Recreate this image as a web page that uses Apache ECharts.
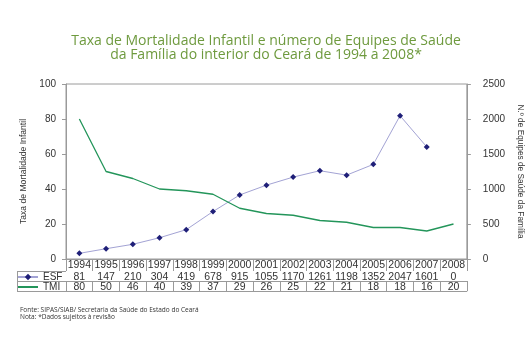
<!DOCTYPE html>
<html>
<head>
    <meta charset="utf-8">
    <title>TMI x ESF Ceara</title>
    <script src="https://cdn.jsdelivr.net/npm/echarts@6/dist/echarts.min.js"></script>
</head>
<body style="margin:0;">
<div id="main" style="width: 532px;height:353px;"></div>

<script>
    // dados
    var anos = ['1994','1995','1996','1997','1998','1999','2000','2001','2002','2003','2004','2005','2006','2007','2008'];
    var esf  = [81, 147, 210, 304, 419, 678, 915, 1055, 1170, 1261, 1198, 1352, 2047, 1601, 0];
    var tmi  = [80, 50, 46, 40, 39, 37, 29, 26, 25, 22, 21, 18, 18, 16, 20];

    var cinza = '#9a9a9a';
    var texto = '#333';
    var fonte = 'Liberation Sans';

    // 2008 sem dado de ESF no grafico (0 na tabela)
    var esfLinha = esf.map(function (v) { return v === 0 ? '-' : v; });

    function eixoTabela(offset, valores, tamTick) {
        return {
            type: 'category',
            position: 'bottom',
            offset: offset,
            data: anos,
            boundaryGap: true,
            axisLine: { show: true, lineStyle: { color: cinza, width: 1 } },
            axisTick: { show: tamTick > 0, interval: 0, length: tamTick, lineStyle: { color: cinza } },
            axisLabel: {
                show: valores !== false,
                interval: 0, margin: 1, color: texto, fontSize: 10.5, fontFamily: fonte,
                formatter: function (v, i) { return valores ? String(valores[i]) : v; }
            },
            splitLine: { show: false }
        };
    }

    function legendaLinha(nome, topo, extra) {
        return {
            orient: 'horizontal',
            left: 17,
            top: topo,
            padding: 0,
            itemWidth: 20,
            itemHeight: 8,
            itemGap: 0,
            textStyle: { color: texto, fontSize: 10, fontFamily: fonte },
            data: [Object.assign({ name: nome }, extra || {})]
        };
    }

    var chart = echarts.init(document.getElementById('main'));
    var option = {
        backgroundColor: '#fff',
        animation: false,
        title: {
            text: 'Taxa de Mortalidade Infantil e número de Equipes de Saúde\nda Família do interior do Ceará de 1994 a 2008*',
            left: 'center',
            top: 29,
            textStyle: {
                color: '#6e9a3e',
                fontFamily: 'Open Sans',
                fontWeight: 'normal',
                fontSize: 14,
                lineHeight: 14
            }
        },
        grid: {
            left: 66, right: 63, top: 84, bottom: 94,
            show: true, borderColor: cinza, borderWidth: 1
        },
        legend: [
            legendaLinha('ESF', 272),
            legendaLinha('TMI', 282, { itemStyle: { opacity: 0 } })
        ],
        xAxis: [
            eixoTabela(0, null, 12),
            eixoTabela(12, esf, 10),
            eixoTabela(22, tmi, 10),
            eixoTabela(32, false, 0)
        ],
        yAxis: [
            {
                type: 'value', min: 0, max: 100, interval: 20,
                name: 'Taxa de Mortalidade Infantil',
                nameLocation: 'middle', nameRotate: 90, nameGap: 37,
                nameTextStyle: { color: texto, fontSize: 8.6, fontFamily: fonte },
                axisLine: { show: true, lineStyle: { color: cinza } },
                axisTick: { show: true, length: 4, lineStyle: { color: cinza } },
                axisLabel: { color: texto, fontSize: 10, fontFamily: fonte, margin: 10 },
                splitLine: { show: false }
            },
            {
                type: 'value', min: 0, max: 2500, interval: 500,
                name: 'N.º de Equipes de Saúde da Família',
                nameLocation: 'middle', nameRotate: -90, nameGap: 48,
                nameTextStyle: { color: texto, fontSize: 8.3, fontFamily: fonte },
                axisLine: { show: true, lineStyle: { color: cinza } },
                axisTick: { show: true, length: 4, lineStyle: { color: cinza } },
                axisLabel: {
                    color: texto, fontSize: 10, fontFamily: fonte, margin: 16,
                    formatter: function (v) { return String(v); }
                },
                splitLine: { show: false }
            }
        ],
        graphic: [
            // coluna da legenda na tabela
            { type: 'line', shape: { x1: 17, y1: 271.5, x2: 66, y2: 271.5 }, style: { stroke: cinza, lineWidth: 1 } },
            { type: 'line', shape: { x1: 17, y1: 281.5, x2: 66, y2: 281.5 }, style: { stroke: cinza, lineWidth: 1 } },
            { type: 'line', shape: { x1: 17, y1: 291.5, x2: 66, y2: 291.5 }, style: { stroke: cinza, lineWidth: 1 } },
            { type: 'line', shape: { x1: 17.5, y1: 271, x2: 17.5, y2: 292 }, style: { stroke: cinza, lineWidth: 1 } },
            {
                type: 'text', left: 20, top: 306,
                style: {
                    text: 'Fonte: SIPAS/SIAB/ Secretaria da Saúde do Estado do Ceará\nNota: *Dados sujeitos à revisão',
                    fill: texto, fontSize: 6.5, fontFamily: 'Open Sans', lineHeight: 7.5
                }
            }
        ],
        series: [
            {
                name: 'ESF',
                type: 'line',
                yAxisIndex: 1,
                data: esfLinha,
                symbol: 'diamond',
                symbolSize: 6,
                itemStyle: { color: '#1f1f78' },
                lineStyle: { color: '#a3a3d4', width: 1 }
            },
            {
                name: 'TMI',
                type: 'line',
                yAxisIndex: 0,
                data: tmi,
                symbol: 'none',
                itemStyle: { color: '#23955a' },
                lineStyle: { color: '#23955a', width: 1.3 }
            }
        ]
    };
    chart.setOption(option);
</script>
</body>
</html>
